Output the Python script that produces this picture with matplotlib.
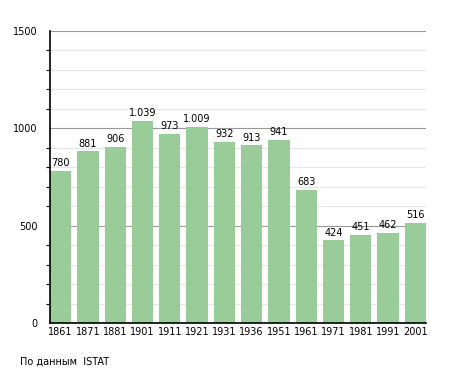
import matplotlib
matplotlib.use('Agg')
import matplotlib.pyplot as plt
from matplotlib.ticker import MultipleLocator

# Population by census year
years = ['1861', '1871', '1881', '1901', '1911', '1921', '1931',
         '1936', '1951', '1961', '1971', '1981', '1991', '2001']
population = [780, 881, 906, 1039, 973, 1009, 932, 913, 941, 683, 424, 451, 462, 516]

bar_color = '#99cc99'

fig = plt.figure(figsize=(4.55, 3.73), dpi=100)
ax = fig.add_axes([0.1099, 0.134, 0.8264, 0.783])

x = range(len(years))
bars = ax.bar(x, population, width=0.78, color=bar_color, zorder=2)

# value labels, thousands separated with a dot
for xi, v in zip(x, population):
    label = f'{v:,}'.replace(',', '.')
    ax.text(xi, v + 14, label, ha='center', va='bottom', fontsize=7, color='black')

ax.set_xlim(-0.39, len(years) - 1 + 0.39)
ax.set_ylim(0, 1500)
ax.set_xticks(list(x))
ax.set_xticklabels(years, fontsize=7)
ax.yaxis.set_major_locator(MultipleLocator(500))
ax.yaxis.set_minor_locator(MultipleLocator(100))
ax.tick_params(axis='y', which='major', labelsize=7, length=0, pad=9)
ax.tick_params(axis='y', which='minor', length=3, width=0.8)
ax.tick_params(axis='x', length=0, pad=3)

ax.grid(axis='y', which='major', color='#999999', linewidth=0.8, zorder=0)
ax.grid(axis='y', which='minor', color='#e6e6e6', linewidth=0.8, zorder=0)

for s in ['top', 'right']:
    ax.spines[s].set_visible(False)
ax.spines['left'].set_linewidth(1.2)
ax.spines['bottom'].set_linewidth(1.2)

fig.text(20 / 455, 1 - 362 / 373, 'По данным  ISTAT', fontsize=7, va='center', ha='left')

fig.savefig('out.png', dpi=100)
